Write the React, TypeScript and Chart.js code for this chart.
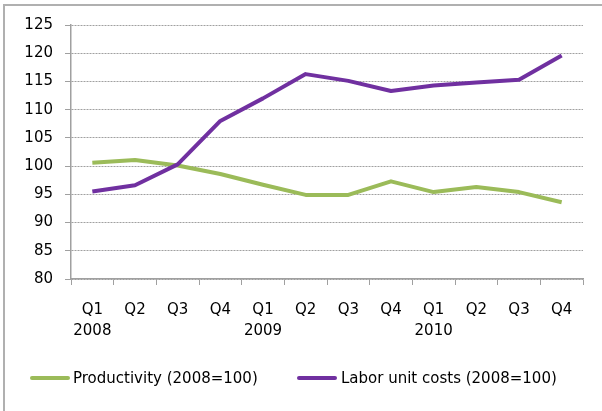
import React, { useEffect, useRef } from "react";
import { Chart, registerables } from "chart.js";

Chart.register(...registerables);

const quarters = ["Q1", "Q2", "Q3", "Q4", "Q1", "Q2", "Q3", "Q4", "Q1", "Q2", "Q3", "Q4"];
const years = ["2008", "", "", "", "2009", "", "", "", "2010", "", "", ""];
const productivity = [100.6, 101.1, 100.1, 98.6, 96.7, 94.9, 94.9, 97.3, 95.4, 96.3, 95.4, 93.6];
const laborCosts = [95.5, 96.6, 100.3, 108.0, 112.0, 116.3, 115.1, 113.3, 114.3, 114.8, 115.3, 119.6];
const seriesNames = ["Productivity (2008=100)", "Labor unit costs (2008=100)"];
const colors = ["#9BBB59", "#7030A0"];
const yMin = 80;
const yMax = 125;
const yStep = 5;

const FONT = "'DejaVu Sans', sans-serif";

export default function App() {
  const ref = useRef<HTMLCanvasElement | null>(null);

  useEffect(() => {
    if (!ref.current) return;
    const labels = quarters.map((q, i) => (years[i] ? [q, years[i]] : q));
    const chart = new Chart(ref.current, {
      type: "line",
      data: {
        labels,
        datasets: [
          {
            label: seriesNames[0],
            data: productivity,
            borderColor: colors[0],
            backgroundColor: colors[0],
            borderWidth: 4,
            pointRadius: 0,
            tension: 0,
            borderJoinStyle: "round",
            order: 1,
          },
          {
            label: seriesNames[1],
            data: laborCosts,
            borderColor: colors[1],
            backgroundColor: colors[1],
            borderWidth: 4,
            pointRadius: 0,
            tension: 0,
            borderJoinStyle: "round",
            order: 0,
          },
        ],
      },
      options: {
        animation: false,
        responsive: false,
        maintainAspectRatio: false,
        layout: { padding: { left: 0, right: 19, top: 25, bottom: 0 } },
        plugins: { legend: { display: false }, tooltip: { enabled: false } },
        scales: {
          x: {
            offset: true,
            grid: {
              offset: true,
              drawOnChartArea: false,
              drawTicks: true,
              tickLength: 6,
              tickColor: "#a0a0a0",
              color: "#a0a0a0",
            },
            border: { color: "#a0a0a0", width: 1.5 },
            ticks: {
              color: "#000",
              font: { family: FONT, size: 15, lineHeight: 1.4 },
              padding: 15,
              maxRotation: 0,
              autoSkip: false,
            },
            afterFit: (s: any) => {
              s.height = 132;
            },
          },
          y: {
            min: yMin,
            max: yMax,
            grid: {
              color: "#a0a0a0",
              lineWidth: 1,
              tickLength: 6,
              tickColor: "#a0a0a0",
              tickBorderDash: [],
            },
            border: { color: "#a0a0a0", width: 1.5, dash: [2, 1] },
            ticks: {
              stepSize: yStep,
              color: "#000",
              font: { family: FONT, size: 15 },
              padding: 12,
            },
            afterFit: (s: any) => {
              s.width = 71;
            },
          },
        },
      },
    });
    return () => chart.destroy();
  }, []);

  const legendText: React.CSSProperties = {
    position: "absolute",
    top: 367,
    fontFamily: FONT,
    fontSize: 15,
    color: "#000",
    whiteSpace: "nowrap",
    lineHeight: "22px",
  };
  const legendLine = (left: number, color: string): React.CSSProperties => ({
    position: "absolute",
    left,
    top: 376,
    width: 40,
    height: 4,
    background: color,
    borderRadius: 2,
  });

  return (
    <div style={{ position: "fixed", left: 0, top: 0, width: 602, height: 411, background: "#fff", overflow: "hidden" }}>
      <div style={{ position: "absolute", left: 3, top: 4, width: 2, height: 407, background: "#b0b0b0" }} />
      <div style={{ position: "absolute", left: 3, top: 4, width: 599, height: 2, background: "#b0b0b0" }} />
      <canvas ref={ref} width={602} height={411} style={{ position: "absolute", left: 0, top: 0 }} />
      <div style={legendLine(30, colors[0])} />
      <div style={{ ...legendText, left: 73 }}>{seriesNames[0]}</div>
      <div style={legendLine(297, colors[1])} />
      <div style={{ ...legendText, left: 341 }}>{seriesNames[1]}</div>
    </div>
  );
}
